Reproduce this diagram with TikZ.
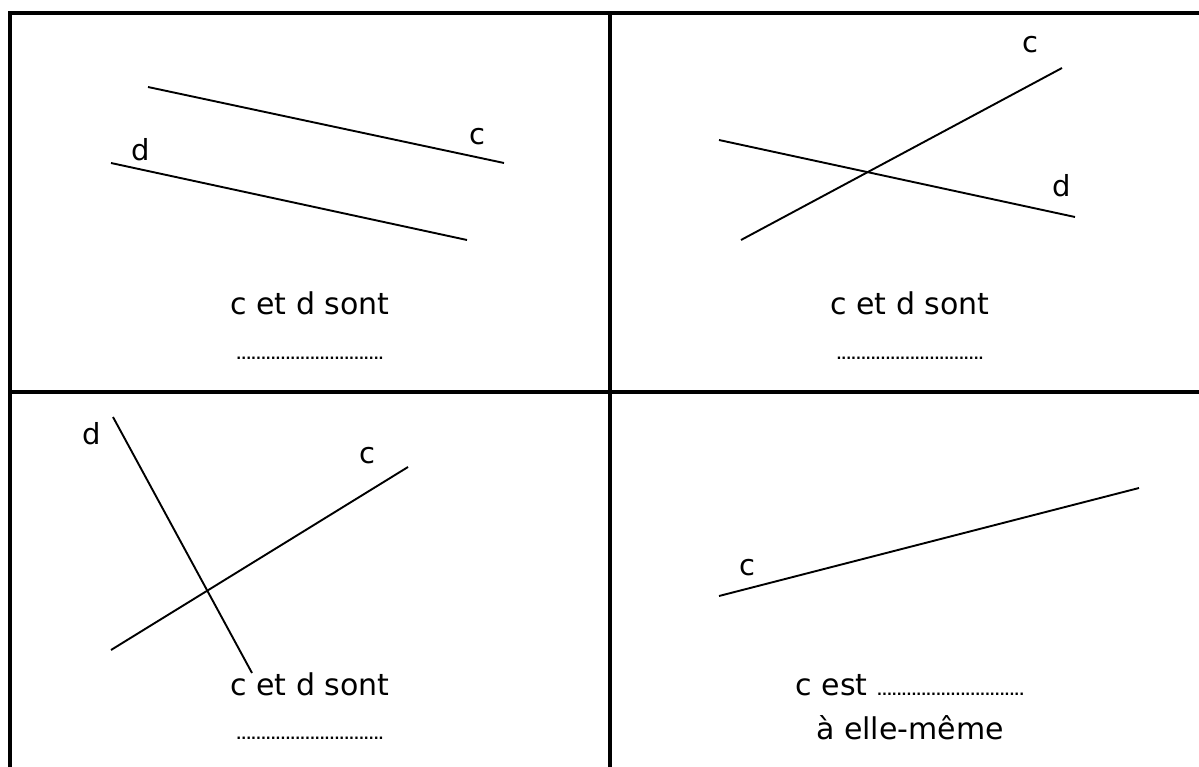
\documentclass[tikz,border=0pt]{standalone}
\usepackage{fontspec}
\setmainfont{DejaVu Sans}
\usetikzlibrary{positioning}
\newcommand{\pointilles}{{\bfseries\fontsize{12.9}{16}\selectfont ..............................}}
\tikzset{
  cadre/.style={line width=3.2pt, line cap=rect},
  droite/.style={line width=1.9pt},
  lbl/.style={font=\fontsize{29}{32}\selectfont, inner sep=0pt},
  txt/.style={font=\fontsize{30}{34}\selectfont, inner sep=0pt, anchor=base},
  feuille/.style={x=1pt, y=-1pt}
}
\begin{document}
\begin{tikzpicture}[feuille]
  \useasboundingbox (0,0) rectangle (1199,767);
  % tableau
  \draw[cadre] (10,767) -- (10,13) -- (1199,13);
  \draw[cadre] (610,13) -- (610,767);
  \draw[cadre] (10,392) -- (1199,392);
  % case 1 : paralleles
  \coordinate (c1a) at (148,87);  \coordinate (c1b) at (504,163);
  \coordinate (d1a) at (111,163); \coordinate (d1b) at (467,240);
  \draw[droite] (c1a) -- (c1b);
  \draw[droite] (d1a) -- (d1b);
  \node[lbl] (lc1) at (477,137) {c};
  \node[lbl] (ld1) at (141,150) {d};
  \node[txt] (t1) at (310,315) {c et d sont};
  \node[txt] (p1) at ([yshift=-44pt]t1.base) {\pointilles};
  % case 2 : secantes
  \coordinate (c2a) at (741,240); \coordinate (c2b) at (1062,68);
  \coordinate (d2a) at (719,140); \coordinate (d2b) at (1075,217);
  \draw[droite] (c2a) -- (c2b);
  \draw[droite] (d2a) -- (d2b);
  \node[lbl] (lc2) at (1030,45) {c};
  \node[lbl] (ld2) at (1062,186) {d};
  \node[txt] (t2) at (910,315) {c et d sont};
  \node[txt] (p2) at ([yshift=-44pt]t2.base) {\pointilles};
  % case 3 : perpendiculaires
  \coordinate (d3a) at (113,417); \coordinate (d3b) at (252,673);
  \coordinate (c3a) at (111,650); \coordinate (c3b) at (408,467);
  \draw[droite] (d3a) -- (d3b);
  \draw[droite] (c3a) -- (c3b);
  \node[lbl] (ld3) at (92,434) {d};
  \node[lbl] (lc3) at (367,456) {c};
  \node[txt] (t3) at (310,695) {c et d sont};
  \node[txt] (p3) at ([yshift=-44pt]t3.base) {\pointilles};
  % case 4 : une seule droite
  \coordinate (c4a) at (719,596); \coordinate (c4b) at (1139,488);
  \draw[droite] (c4a) -- (c4b);
  \node[lbl] (lc4) at (747,568) {c};
  \node[txt] (t4) at (910,695) {c est \pointilles};
  \node[txt] (p4) at ([yshift=-44pt]t4.base) {à elle-même};
\end{tikzpicture}
\end{document}
